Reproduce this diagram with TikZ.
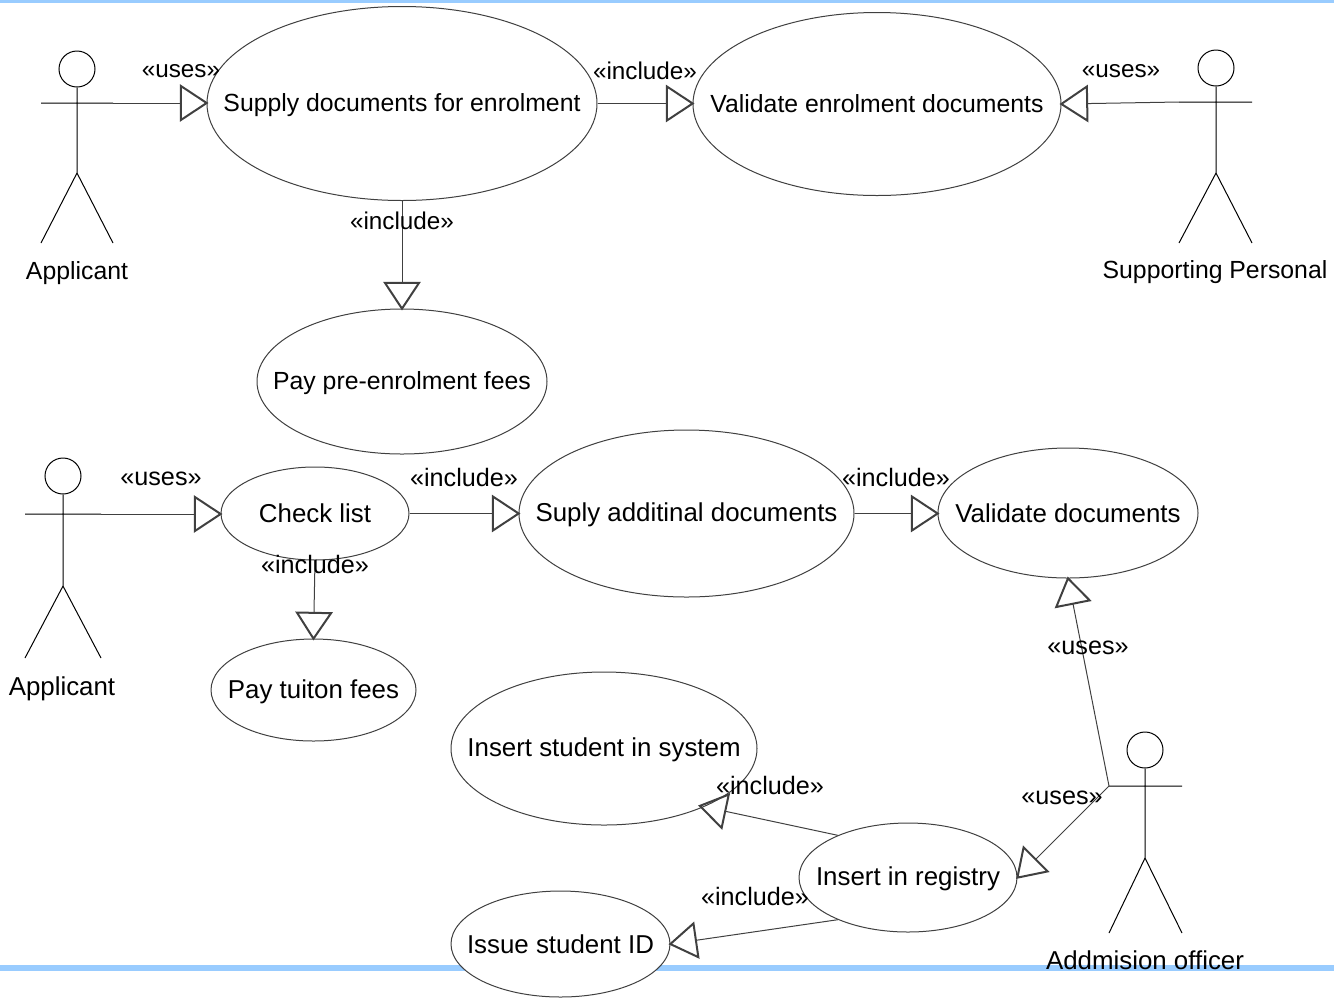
\documentclass[tikz,border=0pt]{standalone}
\usepackage{fontspec}
\setmainfont{Liberation Sans}
\usetikzlibrary{arrows.meta}
\usetikzlibrary{shapes.geometric}
\tikzset{
  every picture/.style={font={\fontsize{18.6}{22}\selectfont}}}
\newcommand{\casetext}[1]{\makebox[0pt]{\raisebox{0pt}[\height][0.45\depth]{#1}}}

\begin{document}
\begin{tikzpicture}[x=0.75pt, y=-0.75pt,
    usecase/.style 2 args={draw=black!75, fill=white, ellipse, inner sep=0pt,
      line width=0.75pt, minimum width=#1*0.75pt, minimum height=#2*0.75pt},
    head/.style={draw, circle, inner sep=0pt, minimum size=27pt, line width=0.75pt},
    stick/.style={line width=0.75pt},
    rel/.style={draw=black!75, line width=0.75pt, shorten >=-1.5pt,
      -{Triangle[open, length=21.5pt, width=28pt, line width=1.5pt]}},
    lower/.style={font={\fontsize{19.4}{22}\selectfont}},
    stereo/.style={font={\fontsize{18.2}{22}\selectfont}},
    stereolow/.style={font={\fontsize{18.9}{22}\selectfont}}]

    \useasboundingbox (0,0) rectangle (1334,997);
    \fill[color={rgb,255:red,153;green,204;blue,255}] (0,0) rectangle (1334,3);
    \fill[color={rgb,255:red,153;green,204;blue,255}] (0,965) rectangle (1334,971);

    \begin{scope}
      \node[usecase={390}{194}] (SD) at (402,103.5) {\casetext{Supply documents for enrolment}};
      \node[usecase={368}{183}] (VE) at (877,104) {\casetext{Validate enrolment documents}};
      \node[usecase={290}{145}] (PE) at (402,381.5) {\casetext{Pay pre-enrolment fees}};
    \end{scope}

    \begin{scope}[lower]
      \node[usecase={188}{93}] (CL) at (315,513.5) {\casetext{Check list}};
      \node[usecase={335}{167}] (AD) at (686.5,513.5) {\casetext{Suply additinal documents}};
      \node[usecase={260}{130}] (VD) at (1068,513) {\casetext{Validate documents}};
      \node[usecase={205}{102}] (PT) at (313.5,690) {\casetext{Pay tuiton fees}};
      \node[usecase={306}{153}] (IS) at (604,748.5) {\casetext{Insert student in system}};
      \node[usecase={218}{109}] (IR) at (908,877.5) {\casetext{Insert in registry}};
      \node[usecase={219}{106}] (ID) at (560.5,944) {\casetext{Issue student ID}};
    \end{scope}

    % actors
    \node[head] (HA) at (77,69) {};
    \coordinate (LA) at (41,103);
    \coordinate (RA) at (113,103);
    \coordinate (BA) at (77,173);
    \draw[stick] (LA) -- (RA) (HA) -- (BA) -- (41,243) (BA) -- (113,243);
    \node (TA) at (77,273) {Applicant};

    \node[head] (HB) at (1216,68) {};
    \coordinate (LB) at (1179,102);
    \coordinate (RB) at (1252,102);
    \coordinate (BB) at (1216,173);
    \draw[stick] (LB) -- (RB) (HB) -- (BB) -- (1179,243) (BB) -- (1252,243);
    \node (TB) at (1215,272) {Supporting Personal};

    \node[head] (HC) at (63,476) {};
    \coordinate (LC) at (25,514);
    \coordinate (RC) at (101,514);
    \coordinate (BC) at (63,586);
    \draw[stick] (LC) -- (RC) (HC) -- (BC) -- (25,658) (BC) -- (101,658);
    \node[lower] (TC) at (62,689) {Applicant};

    \node[head] (HD) at (1145,750) {};
    \coordinate (LD) at (1109,786);
    \coordinate (RD) at (1182,786);
    \coordinate (BD) at (1145,858);
    \draw[stick] (LD) -- (RD) (HD) -- (BD) -- (1109,933) (BD) -- (1182,933);
    \node[lower] (TD) at (1145,960) {Addmision officer};

    % relations
    \draw[rel] (RA) -- (RA -| SD.west);
    \draw[rel] (SD.east) -- (SD.east -| VE.west);
    \draw[rel] (LB) -- (VE.east);
    \draw[rel] (SD.south) -- (PE.north);
    \draw[rel] (RC) -- (RC -| CL.west);
    \draw[rel] (CL.east) -- (CL.east -| AD.west);
    \draw[rel] (AD.east) -- (AD.east -| VD.west);
    \draw[rel] (CL.south) -- (PT.north);
    \draw[rel] (LD) -- (VD.south);
    \draw[rel] (LD) -- (IR.east);
    \draw[rel] (IR.149) -- ([yshift=2pt]IS.-32);
    \draw[rel] (IR.211) -- (ID.east);

    % stereotypes
    \begin{scope}[stereo]
      \node (UA) at (181,71) {«uses»};
      \node (UB) at (1121,71) {«uses»};
      \node (IA) at (645,71) {«include»};
      \node (IB) at (402,221) {«include»};
    \end{scope}

    \begin{scope}[stereolow]
      \node (UC) at (161,479) {«uses»};
      \node (UD) at (1088,648) {«uses»};
      \node (UE) at (1062,798) {«uses»};
      \node (IC) at (464,477) {«include»};
      \node (IE) at (896,477) {«include»};
      \node (IF) at (315,564) {«include»};
      \node (IG) at (770,785) {«include»};
      \node (IH) at (755,896) {«include»};
    \end{scope}
  \end{tikzpicture}
\end{document}
